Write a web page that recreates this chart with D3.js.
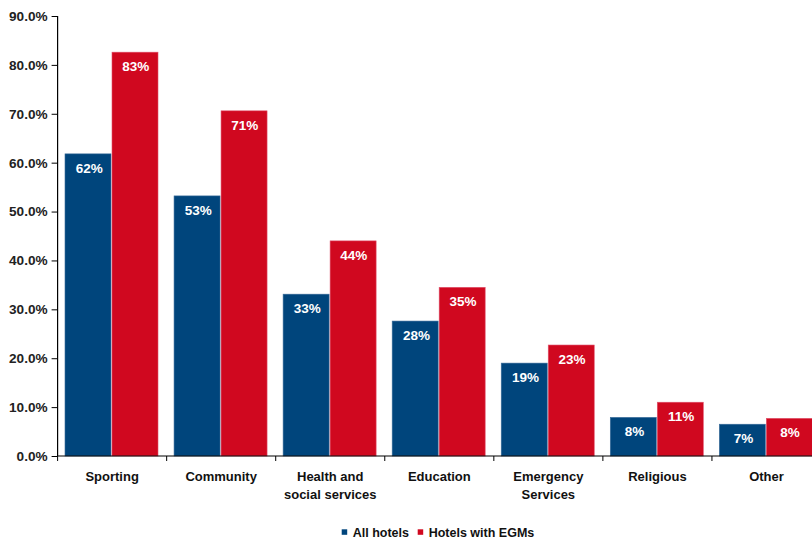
<!DOCTYPE html>
<html><head><meta charset="utf-8">
<script src="https://cdn.jsdelivr.net/npm/d3@7"></script>
<style>
html,body{margin:0;padding:0;background:#fff;}
svg text{font-family:"Liberation Sans",Arial,sans-serif;font-weight:bold;}
</style></head>
<body>
<svg id="chart" width="812" height="540"></svg>
<script>
const categories = [["Sporting"],["Community"],["Health and","social services"],["Education"],["Emergency","Services"],["Religious"],["Other"]];
const seriesNames = ["All hotels","Hotels with EGMs"];
const allHotels = [61.8, 53.2, 33.1, 27.6, 19.0, 7.9, 6.5];
const hotelsEGMs = [82.6, 70.6, 44.0, 34.5, 22.7, 11.0, 7.7];
const yTicks = [0,10,20,30,40,50,60,70,80,90];
const colors = ["#00457c","#d0081f"];

const svg = d3.select("#chart");
const x0 = d3.scaleBand().domain(d3.range(categories.length)).range([57.6, 821]).padding(0);
const x1 = d3.scaleBand().domain([0,1]).range([7.4, 100.4]).padding(0);
const y = d3.scaleLinear().domain([0,90]).range([456,16]);

const data = categories.map((c,i)=>({i, vals:[allHotels[i], hotelsEGMs[i]]}));

const g = svg.append("g");
const groups = g.selectAll("g.cat").data(data).enter().append("g")
  .attr("transform", d=>`translate(${x0(d.i)},0)`);
groups.selectAll("rect").data(d=>d.vals.map((v,k)=>({v,k}))).enter().append("rect")
  .attr("x", d=>x1(d.k)+(d.k===1?0.5:0))
  .attr("width", x1.bandwidth()-0.5)
  .attr("y", d=>y(d.v))
  .attr("height", d=>y(0)-y(d.v))
  .attr("fill", d=>colors[d.k])
  .attr("stroke", d=>d.k===1?"#e0506a":"#3a6c9a")
  .attr("stroke-width",0.6);
groups.selectAll("text").data(d=>d.vals.map((v,k)=>({v,k}))).enter().append("text")
  .attr("x", d=>x1(d.k)+x1.bandwidth()/2+1)
  .attr("y", d=>y(d.v)+19)
  .attr("text-anchor","middle")
  .attr("fill","#fff")
  .attr("font-size","13.5px")
  .text(d=>Math.round(d.v)+"%");

// Y axis
const yAxis = d3.axisLeft(y).tickValues(yTicks).tickSize(6).tickPadding(4)
  .tickFormat(d=>d.toFixed(1)+"%");
const ya = svg.append("g").attr("transform","translate(57.6,0)").call(yAxis);
ya.select(".domain").attr("stroke","#000").attr("stroke-width",1.2).attr("d","M0,16V456");
ya.selectAll(".tick line").attr("stroke","#000");
ya.selectAll(".tick text").attr("font-size","13.6px").attr("fill","#222").attr("font-family","Liberation Sans, Arial, sans-serif").attr("font-weight","bold");

// X axis
const xa = svg.append("g").attr("transform","translate(0,456)");
xa.append("line").attr("x1",57.6).attr("x2",812).attr("stroke","#000").attr("stroke-width",1.2);
xa.selectAll("line.t").data(d3.range(categories.length+1)).enter().append("line")
  .attr("x1",d=>57.6+d*x0.bandwidth()).attr("x2",d=>57.6+d*x0.bandwidth())
  .attr("y1",0).attr("y2",5).attr("stroke","#000");
const cl = xa.selectAll("text.c").data(categories).enter().append("text")
  .attr("text-anchor","middle").attr("font-size","13px").attr("fill","#111")
  .attr("x",(d,i)=>x0(i)+x0.bandwidth()/2);
cl.selectAll("tspan").data(d=>d).enter().append("tspan")
  .attr("x",function(){return d3.select(this.parentNode).attr("x");})
  .attr("y",(d,j)=>25+j*17.7).text(d=>d);

// Legend
const leg = svg.append("g");
const legX = [341.7, 417.7];
seriesNames.forEach((n,k)=>{
  leg.append("rect").attr("x",legX[k]).attr("y",529.3).attr("width",5.5).attr("height",5.5).attr("fill",colors[k]);
  leg.append("text").attr("x",legX[k]+11).attr("y",536.7).attr("font-size","12.5px").attr("fill","#111").text(n);
});
</script>
</body></html>
